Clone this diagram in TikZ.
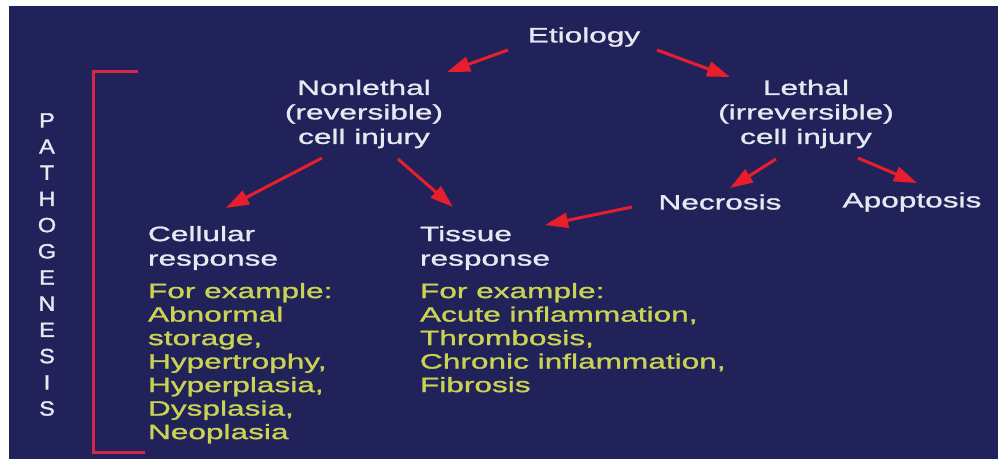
\documentclass[tikz,border=0pt]{standalone}
\usepackage{fontspec}
\setmainfont{Liberation Sans}[FakeStretch=1.52,FakeBold=1.2]
\newfontfamily\plainsans{Liberation Sans}[FakeStretch=1.15,FakeBold=1.5]
\usetikzlibrary{arrows.meta}
\definecolor{bgblue}{RGB}{34,34,90}
\definecolor{txtwhite}{RGB}{232,232,242}
\definecolor{txtyellow}{RGB}{202,212,82}
\definecolor{arrred}{RGB}{232,30,45}
\definecolor{brkred}{RGB}{212,40,72}
\begin{document}
\begin{tikzpicture}[x=1pt,y=-1pt,
  every node/.style={inner sep=0pt,outer sep=0pt},
  whitetxt/.style={text=txtwhite,font=\fontsize{20.8}{24.5}\selectfont},
  yellowtxt/.style={text=txtyellow,font=\fontsize{20.8}{23.5}\selectfont,align=left,anchor=north west},
  ctr/.style={whitetxt,align=center},
  lft/.style={whitetxt,align=left,anchor=north west},
  redarrow/.style={draw=arrred,line width=3pt,-{Triangle[length=23pt,width=15pt]}},
  bracket/.style={draw=brkred,line width=3pt}
]
\fill[white] (0,0) rectangle (999,459);
\fill[bgblue] (9,6) rectangle (998,459);
\useasboundingbox (0,0) rectangle (999,459);

\node[ctr] (etio) at (584,37) {Etiology};
\node[ctr] (nonl) at (364,114) {Nonlethal\\(reversible)\\cell injury};
\node[ctr] (leth) at (806,114) {Lethal\\(irreversible)\\cell injury};
\node[ctr] (necr) at (720,202) {Necrosis};
\node[ctr] (apop) at (912,202) {Apoptosis};
\node[lft] (cellhead) at (148,226) {Cellular\\response};
\node[lft] (tisshead) at (420,226) {Tissue\\response};
\node[yellowtxt] (cellex) at (148,283) {For example:\\Abnormal\\storage,\\Hypertrophy,\\Hyperplasia,\\Dysplasia,\\Neoplasia};
\node[yellowtxt] (tissex) at (420,283) {For example:\\Acute inflammation,\\Thrombosis,\\Chronic inflammation,\\Fibrosis};
\node[text=txtwhite,font=\plainsans\fontsize{20.5}{26.2}\selectfont,align=center] (patho) at (47,264.5)
  {P\\A\\T\\H\\O\\G\\E\\N\\E\\S\\I\\S};

\draw[bracket] (138,71) -- (93,71) -- (93,452) -- (145,452);

\draw[redarrow] ([shift={(-76,13)}]etio.center) -- ([shift={(83,-42)}]nonl.center);
\draw[redarrow] ([shift={(73,13)}]etio.center) -- ([shift={(-76,-37)}]leth.center);
\draw[redarrow] ([shift={(-42,44)}]nonl.center) -- ([shift={(78,-18)}]cellhead.north west);
\draw[redarrow] ([shift={(34,45)}]nonl.center) -- ([shift={(33,-19)}]tisshead.north west);
\draw[redarrow] ([shift={(-30,45)}]leth.center) -- ([shift={(10,-14)}]necr.center);
\draw[redarrow] ([shift={(52,44)}]leth.center) -- ([shift={(5,-19)}]apop.center);
\draw[redarrow] ([shift={(-88,5)}]necr.center) -- ([shift={(125,-1)}]tisshead.north west);
\end{tikzpicture}
\end{document}
